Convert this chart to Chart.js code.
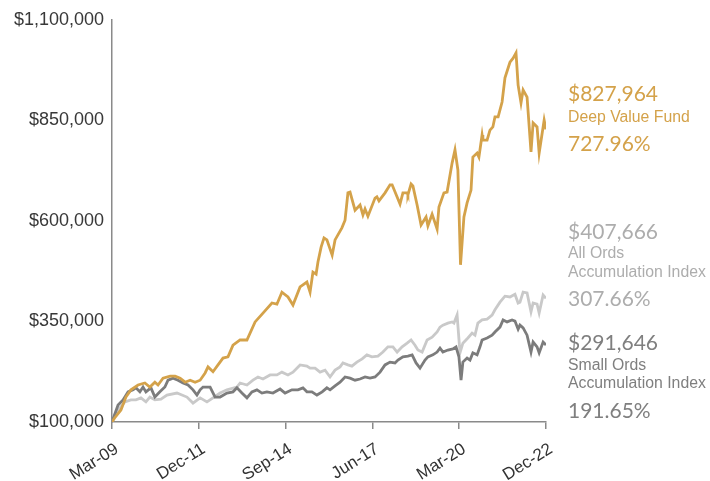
<!DOCTYPE html>
<html>
<head>
<meta charset="utf-8">
<script src="https://cdn.jsdelivr.net/npm/chart.js@4"></script>
<style>
  html, body { margin: 0; padding: 0; background: #fff; }
  #wrap { position: relative; width: 710px; height: 481px; }
  .lbl { position: absolute; left: 568px; white-space: nowrap; }
  .big { font-family: "Lato", "Open Sans", sans-serif; font-size: 21px; line-height: 24px; }
  .small { font-family: "Liberation Sans", Arial, sans-serif; font-size: 15.8px; line-height: 18px; }
  .gold { color: #d4a24a; }
  .light { color: #adadad; }
  .dark { color: #7f7f7f; }
</style>
</head>
<body>
<div id="wrap">
  <canvas id="chart-growth" width="710" height="481"></canvas>
  <div class="lbl big gold" style="top:81px">$827,964</div>
  <div class="lbl small gold" style="top:108px">Deep Value Fund</div>
  <div class="lbl big gold" style="top:131px">727.96%</div>
  <div class="lbl big light" style="top:219px">$407,666</div>
  <div class="lbl small light" style="top:244px">All Ords</div>
  <div class="lbl small light" style="top:263px">Accumulation Index</div>
  <div class="lbl big light" style="top:286px">307.66%</div>
  <div class="lbl big dark" style="top:330px">$291,646</div>
  <div class="lbl small dark" style="top:356px">Small Ords</div>
  <div class="lbl small dark" style="top:374px">Accumulation Index</div>
  <div class="lbl big dark" style="top:398px">191.65%</div>
</div>
<script>
// months counted from Mar-09 (0) to Dec-22 (165)
var tickMonths = [0, 33, 66, 99, 132, 165];
var tickLabels = ["Mar-09", "Dec-11", "Sep-14", "Jun-17", "Mar-20", "Dec-22"];
var yTicks = [100000, 350000, 600000, 850000, 1100000];

// ---------------- Deep Value Fund ----------------
var fundMonths = [0, 1, 3.4, 5.3, 7.2, 9.9, 12.5, 14.4, 16.3, 17.5,
  19.4, 22.1, 24, 25.9, 27.8, 29.7, 31.6, 33.5, 35.4, 36.5,
  38.4, 40.3, 42.2, 44.1, 46, 48.7, 51.3, 54.4, 57.4, 60.8,
  62.7, 64.6, 66.9, 68.8, 71.5, 74.1, 75.3, 76.4, 77.6, 78.3,
  79.5, 80.6, 81.7, 83.7, 84.8, 87.4, 88.6, 89.7, 90.5, 92.4,
  94.3, 95.4, 96.2, 97.3, 100, 100.7, 101.5, 103.8, 105.7, 106.5,
  109.5, 110.6, 112.2, 112.5, 113.7, 114.4, 116, 117.5, 119.4, 120.1,
  121.7, 123.6, 124.3, 126.2, 127.4, 129.3, 130.4, 131.5, 132.5, 133.8,
  135, 136.5, 137.2, 138.8, 139.5, 140.7, 141, 142.6, 143.7, 144.8,
  145.6, 146.8, 148.3, 149.4, 151.3, 152.5, 153.6, 154.4, 155.5, 156.3,
  157.8, 159.3, 160.1, 161.6, 162.4, 164.3, 165];
var fundValues = [100000, 110000, 130000, 162000, 180000, 192000, 197000, 187000, 199000, 192000,
  209000, 214000, 214000, 209000, 199000, 204000, 199000, 204000, 222000, 237000,
  225000, 242000, 259000, 262000, 291000, 304000, 304000, 349000, 371000, 396000,
  393000, 423000, 411000, 391000, 436000, 448000, 423000, 473000, 468000, 498000,
  535000, 558000, 553000, 515000, 553000, 583000, 602000, 670000, 672000, 627000,
  640000, 615000, 630000, 612000, 657000, 660000, 650000, 670000, 690000, 690000,
  642000, 670000, 670000, 665000, 692000, 687000, 640000, 590000, 610000, 588000,
  617000, 580000, 635000, 670000, 672000, 744000, 777000, 727000, 491000, 610000,
  645000, 677000, 759000, 769000, 759000, 814000, 801000, 801000, 826000, 834000,
  859000, 859000, 896000, 956000, 995000, 1005000, 1018000, 938000, 894000, 926000,
  908000, 772000, 844000, 834000, 769000, 851000, 827964];

// ---------------- All Ords Accumulation Index ----------------
var allOrdsMonths = [0, 2.3, 4.9, 7.2, 9.1, 11, 12.9, 14.4, 16.3, 18.6,
  20.9, 24.7, 28.5, 30.8, 33.5, 36.1, 38.4, 41.1, 43.7, 47.5,
  48.7, 51.3, 53.6, 55.5, 57.4, 60.1, 62.7, 64.6, 66.9, 68.8,
  71.5, 74.1, 75.3, 77.2, 79.1, 81, 82.9, 84.8, 86.7, 87.8,
  89.7, 91.2, 93.1, 95.1, 96.9, 98.8, 101.1, 103, 104.9, 106.8,
  108.4, 110.3, 112.2, 113.7, 115.2, 116.3, 117.9, 119.8, 121.7, 123.6,
  124.7, 125.8, 127.7, 129.3, 130, 131.2, 132.3, 133.4, 135.3, 136.9,
  138, 139.1, 140.7, 142.6, 144.5, 145.6, 147.5, 149.4, 151.3, 153.2,
  154.4, 155.1, 156.3, 157.8, 159.3, 160.1, 161.6, 162.4, 163.9, 165];
var allOrdsValues = [100000, 130000, 150000, 155000, 155000, 160000, 150000, 162000, 155000, 157000,
  167000, 172000, 162000, 147000, 160000, 150000, 160000, 172000, 180000, 187000,
  197000, 192000, 204000, 212000, 207000, 217000, 217000, 224000, 217000, 224000,
  242000, 239000, 234000, 234000, 224000, 229000, 212000, 229000, 237000, 247000,
  242000, 239000, 249000, 257000, 267000, 262000, 264000, 274000, 287000, 287000,
  274000, 287000, 296000, 304000, 291000, 279000, 274000, 304000, 311000, 324000,
  336000, 341000, 346000, 349000, 346000, 366000, 272000, 296000, 309000, 321000,
  316000, 346000, 354000, 356000, 366000, 379000, 398000, 413000, 411000, 418000,
  396000, 398000, 423000, 421000, 374000, 396000, 393000, 371000, 416000, 407666];

// ---------------- Small Ords Accumulation Index ----------------
var smallOrdsMonths = [0, 2.3, 4.2, 6.1, 8, 9.1, 10.6, 11.8, 12.9, 14.8,
  16.3, 18.2, 20.1, 21.3, 23.2, 25.1, 27, 28.9, 30.8, 32.3,
  33.5, 34.6, 37.3, 39.2, 41.1, 43.7, 46, 47.5, 49.4, 51.3,
  53.2, 55.1, 57, 58.9, 61.2, 63.9, 65.8, 68.4, 70.7, 72.6,
  74.1, 76, 77.9, 79.9, 81.7, 82.9, 84.8, 86.7, 88.6, 90.5,
  92.4, 94.3, 96.2, 98.1, 100, 101.9, 103.8, 105.7, 107.6, 108.7,
  110.6, 112.5, 114.1, 115.6, 117.1, 119, 120.1, 122, 123.6, 124.7,
  125.8, 127.7, 129.6, 130.8, 131.9, 132.7, 133.4, 135, 136.1, 137.2,
  138.8, 139.9, 140.7, 142.6, 144.5, 145.6, 147.5, 148.7, 150.2, 152.1,
  153.2, 154.4, 155.1, 156.3, 157.8, 159.3, 160.1, 161.6, 162.4, 163.9,
  165];
var smallOrdsValues = [100000, 142000, 155000, 175000, 180000, 185000, 175000, 187000, 175000, 185000,
  162000, 175000, 187000, 204000, 209000, 204000, 197000, 192000, 180000, 167000,
  180000, 187000, 187000, 162000, 162000, 172000, 175000, 185000, 172000, 160000,
  175000, 180000, 172000, 175000, 172000, 182000, 172000, 180000, 180000, 185000,
  175000, 175000, 167000, 175000, 185000, 180000, 190000, 199000, 212000, 209000,
  204000, 207000, 212000, 209000, 212000, 224000, 242000, 249000, 247000, 254000,
  262000, 264000, 267000, 247000, 234000, 254000, 262000, 267000, 274000, 284000,
  274000, 279000, 282000, 287000, 262000, 204000, 249000, 259000, 254000, 272000,
  267000, 287000, 304000, 309000, 316000, 324000, 336000, 354000, 349000, 354000,
  351000, 331000, 341000, 334000, 316000, 274000, 299000, 287000, 272000, 299000,
  291646];

function toPoints(months, values) {
    return months.map(function (m, i) { return { x: m, y: values[i] }; });
}

var ctx = document.getElementById('chart-growth').getContext('2d');
var chart_growth = new Chart(ctx, {
    type: 'line',
    data: {
        datasets: [{
            label: 'Deep Value Fund',
            data: toPoints(fundMonths, fundValues),
            borderColor: '#d4a24a',
            borderWidth: 2.8,
            pointRadius: 0,
            fill: false
        }, {
            label: 'Small Ords Accumulation Index',
            data: toPoints(smallOrdsMonths, smallOrdsValues),
            borderColor: '#7c7c7c',
            borderWidth: 2.8,
            pointRadius: 0,
            fill: false
        }, {
            label: 'All Ords Accumulation Index',
            data: toPoints(allOrdsMonths, allOrdsValues),
            borderColor: '#c9c9c9',
            borderWidth: 2.8,
            pointRadius: 0,
            fill: false
        }]
    },
    options: {
        responsive: false,
        animation: false,
        layout: { padding: { top: 20, right: 164, left: 0, bottom: 0 } },
        plugins: {
            legend: { display: false },
            tooltip: { enabled: false }
        },
        scales: {
            x: {
                type: 'linear',
                min: 0,
                max: 165,
                afterBuildTicks: function (scale) {
                    scale.ticks = tickMonths.map(function (v) { return { value: v }; });
                },
                afterFit: function (scale) { scale.height = 59; },
                ticks: {
                    callback: function (v) { return tickLabels[tickMonths.indexOf(v)]; },
                    minRotation: 32,
                    maxRotation: 32,
                    color: '#333',
                    padding: 10,
                    labelOffset: 5,
                    font: { family: 'Liberation Sans', size: 17 }
                },
                grid: { drawOnChartArea: false, drawTicks: true, tickLength: 7, color: '#8a8a8a', lineWidth: 1.5 },
                border: { color: '#8a8a8a', width: 1.5 }
            },
            y: {
                min: 100000,
                max: 1100000,
                afterBuildTicks: function (scale) {
                    scale.ticks = yTicks.map(function (v) { return { value: v }; });
                },
                afterFit: function (scale) { scale.width = 112; },
                ticks: {
                    callback: function (v) { return '$' + v.toLocaleString('en-US'); },
                    color: '#383838',
                    padding: 8,
                    font: { family: 'Liberation Sans', size: 18 }
                },
                grid: { display: false, drawTicks: false },
                border: { color: '#8a8a8a', width: 1.5 }
            }
        }
    }
});
</script>
</body>
</html>
